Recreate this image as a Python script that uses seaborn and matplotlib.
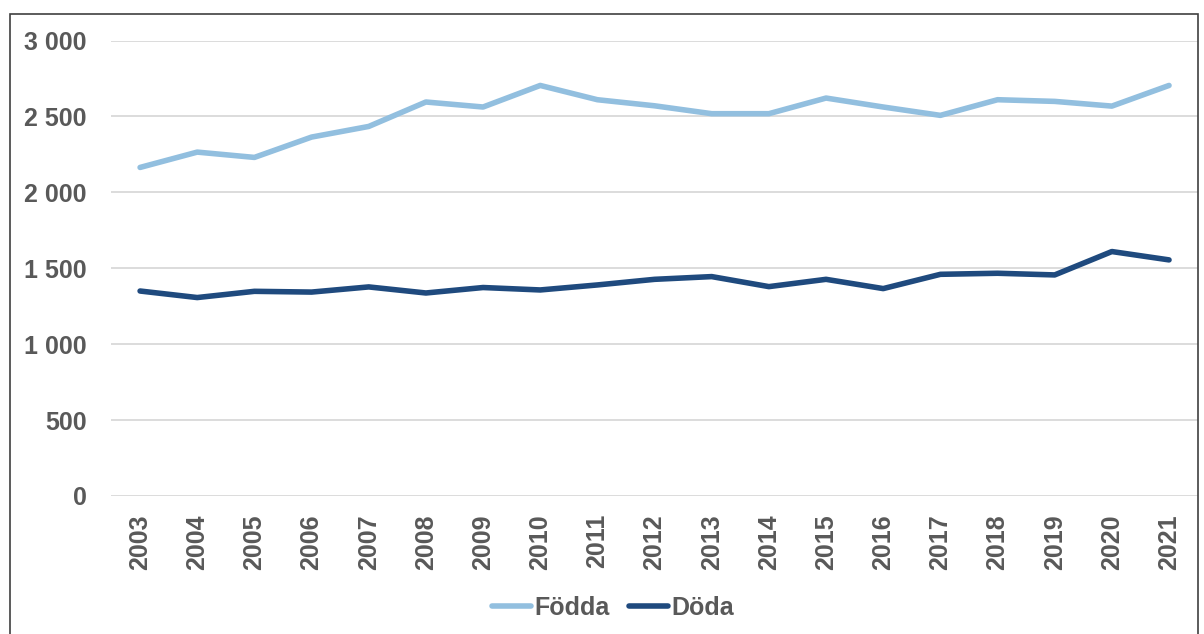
import numpy as np
import pandas as pd
import matplotlib
matplotlib.use("Agg")
import matplotlib.pyplot as plt
import seaborn as sns
from matplotlib.patches import Rectangle

# data
years = list(range(2003, 2022))
fodda = [2164, 2265, 2230, 2364, 2434, 2595, 2562, 2704, 2610, 2570,
         2518, 2518, 2621, 2562, 2507, 2610, 2599, 2568, 2704]
doda = [1350, 1307, 1348, 1343, 1377, 1337, 1373, 1357, 1390, 1427,
        1445, 1379, 1427, 1366, 1460, 1467, 1456, 1610, 1555]
y_ticks = [0, 500, 1000, 1500, 2000, 2500, 3000]

df = pd.DataFrame({
    "År": years * 2,
    "Antal": fodda + doda,
    "Serie": ["Födda"] * len(years) + ["Döda"] * len(years),
})

sns.set_theme(style="white")
plt.rcParams["font.family"] = ["Liberation Sans", "DejaVu Sans"]

fig = plt.figure(figsize=(12.04, 6.34), dpi=100)
ax = fig.add_axes([0.0926, 0.2177, 0.9021, 0.7184])

sns.lineplot(data=df, x="År", y="Antal", hue="Serie",
             palette={"Födda": "#92BFDF", "Döda": "#1F4A7E"},
             linewidth=4, ax=ax, legend=False, solid_capstyle="round")

ax.set_xlim(2002.5, 2021.5)
ax.set_ylim(0, 3000)
ax.set_xticks(years)
ax.set_xticklabels([str(y) for y in years], rotation=90,
                   fontsize=18, fontweight="bold", color="#595959")
ax.set_yticks(y_ticks)
ax.set_yticklabels([f"{v:,}".replace(",", " ") for v in y_ticks],
                   fontsize=18, fontweight="bold", color="#595959")
ax.tick_params(axis="y", length=0, pad=18)
ax.tick_params(axis="x", length=0, pad=13)
ax.yaxis.grid(True, color="#D9D9D9", linewidth=1.3)
ax.set_axisbelow(True)
for s in ax.spines.values():
    s.set_visible(False)
ax.set_xlabel("")
ax.set_ylabel("")

# legend
handles = [plt.Line2D([], [], color="#92BFDF", lw=4),
           plt.Line2D([], [], color="#1F4A7E", lw=4)]
fig.legend(handles, ["Födda", "Döda"], loc="center",
           bbox_to_anchor=(0.509, 0.041), ncol=2, frameon=False,
           prop={"size": 18, "weight": "bold"}, labelcolor="#595959",
           handlelength=1.55, handletextpad=0.12, columnspacing=0.8)

# outer frame
fig.patches.append(Rectangle((10 / 1204, -0.05), 1188 / 1204, 1.05 - 14 / 634,
                             transform=fig.transFigure, fill=False,
                             edgecolor="#404040", linewidth=1.2))

fig.savefig("out.png", dpi=100)
